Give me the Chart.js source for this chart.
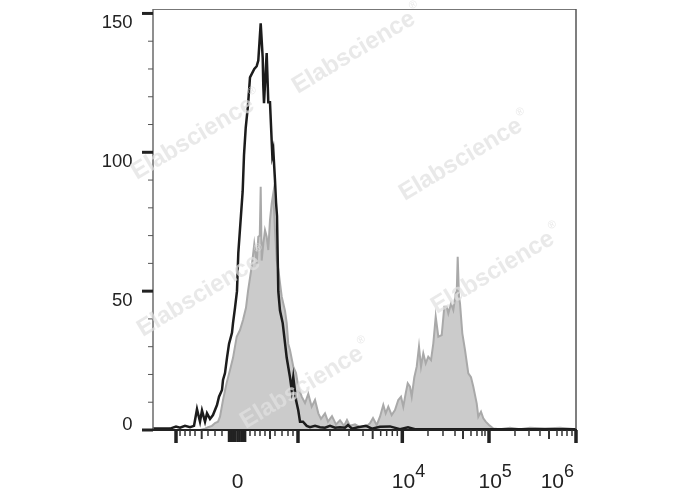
<!DOCTYPE html>
<html>
<head>
<meta charset="utf-8">
<script src="https://cdn.jsdelivr.net/npm/chart.js@4.4.1/dist/chart.umd.min.js"></script>
<style>
  body { margin: 0; background: #fff; }
</style>
</head>
<body>
<canvas id="myChart" width="688" height="490"></canvas>
<script>
// x values are display channels (0..1024) of a biexponential axis
var grayX = [0, 113.8, 125.9, 133.1, 142.8, 150.1, 157.4, 162.2, 169.5, 178.4,
  186.4, 193.7, 202.6, 210.6, 217.9, 225.1, 230.0, 238.9, 245.2, 251.0,
  254.9, 258.5, 260.7, 263.1, 267.0, 271.1, 275.2, 279.1, 283.2, 287.4,
  291.2, 295.3, 299.5, 303.3, 307.4, 311.6, 319.5, 323.7, 327.5, 331.6,
  339.6, 346.2, 351.7, 360.0, 368.0, 375.9, 384.2, 392.2, 400.2, 406.7,
  416.4, 423.6, 433.3, 443.0, 452.7, 462.4, 469.6, 476.9, 489.0, 501.1,
  513.2, 525.3, 532.6, 541.5, 549.5, 557.5, 563.3, 569.6, 577.8, 585.8,
  593.8, 600.4, 605.9, 611.7, 616.6, 622.1, 626.3, 632.6, 638.4, 643.9,
  648.8, 654.3, 660.2, 666.4, 673.0, 678.6, 684.4, 690.7, 698.9, 705.2,
  711.0, 714.9, 721.4, 727.0, 732.8, 735.4, 737.6, 740.8, 743.2, 748.8,
  755.3, 763.3, 769.8, 775.4, 783.6, 787.5, 794.0, 799.6, 805.4, 813.4,
  823.8, 840.0, 864.2, 888.4, 912.6, 949.0, 985.3, 1024]
var grayY = [0, 0, 0.5, 1, 1.5, 2.5, 3, 4.8, 10.8, 17,
  21.6, 26, 33.6, 36, 39.6, 44, 50, 58.8, 67, 60,
  69.6, 70, 87.6, 61, 67, 72, 69.6, 64.8, 75.6, 81.6,
  85.2, 72, 61, 58, 53, 48, 43, 38.5, 31, 28.8,
  22.8, 20.5, 15.6, 12, 9.7, 13, 8.4, 10.8, 6, 4,
  6, 3, 5, 2, 3.5, 1.5, 3.6, 1.5, 2, 1,
  1, 2.4, 4.3, 1.8, 4.8, 9, 6, 8.4, 5.4, 7.2,
  10.8, 12, 8.4, 13.2, 16.8, 15.6, 12, 19, 22.8, 30,
  22.8, 27.6, 24, 26.4, 25.2, 31.2, 40.8, 33.6, 34.2, 44.4,
  44.4, 42, 45.6, 43.2, 49.2, 50, 62.4, 48, 45.6, 34.8,
  28.8, 20.4, 19, 15.6, 9.6, 4.8, 6.6, 4.2, 3, 1.8,
  0.5, 0.3, 0.8, 0.3, 0.8, 0.5, 0.8, 0.3]

var ctrlX = [0, 41.2, 55.7, 65.4, 77.5, 89.6, 99.3, 106.5, 113.8, 118.6,
  125.9, 130.7, 138.0, 145.2, 154.9, 159.8, 167.0, 169.5, 174.3, 179.1,
  184.0, 191.2, 193.7, 198.5, 203.3, 206.5, 217.1, 220.3, 224.4, 230.0,
  234.8, 245.2, 251.0, 254.9, 260.7, 265.6, 267.0, 268.7, 275.2, 279.1,
  283.2, 288.8, 291.2, 295.3, 297.8, 300.2, 303.3, 307.4, 314.0, 323.7,
  331.6, 335.8, 339.6, 346.2, 351.7, 355.9, 363.1, 372.1, 380.1, 392.2,
  404.3, 416.4, 428.5, 440.6, 452.7, 464.8, 472.1, 481.7, 496.3, 515.6,
  530.2, 549.5, 573.7, 597.9, 617.3, 634.2, 1024]
var ctrlY = [0.5, 0.5, 1.2, 0.8, 1.5, 1, 1.5, 7.5, 3, 7,
  3, 6, 4, 5.4, 9, 12, 14.4, 18, 20.5, 26,
  31, 35, 38.5, 44, 50, 63.7, 86, 99, 108.7, 117,
  127, 130, 131, 133, 146.4, 134, 124, 117.7, 135.7, 118,
  118, 99, 100.8, 90, 82, 77, 50, 43, 38.5, 26,
  19, 14.4, 19, 10.8, 7, 3, 3, 1.5, 1, 1.5,
  1, 0.8, 1.5, 0.8, 1, 0.8, 1.8, 0.5, 1, 1.5,
  0.5, 1.2, 1.3, 0.3, 1, 0.3, 0.3]

var yMajor = [0, 50, 100, 150]
var yMinor = [10, 20, 30, 40, 60, 70, 80, 90, 110, 120, 130, 140]

var xMajor = [55.7, 351.0, 603.5, 813.4, 1024]
var xZeroTicks = [184, 189, 194, 199, 204.5, 209, 214, 218, 223]
var xMedium = [117.9, 283.2, 531.8, 750.4, 958.6]
var xMinor = [65.4, 77.5, 89.6, 101.7, 133.1, 150.1, 167.0,
  234.8, 246.9, 259.0, 271.1, 295.3, 312.3, 326.8, 338.9,
  428.5, 474.5, 508.4, 551.2, 565.7, 579.3, 591.4,
  665.7, 702.0, 731.1, 769.8, 784.3, 796.4, 803.7,
  876.3, 910.2, 936.8, 978.0, 990.1, 1002.2, 1014.3]

var xLabelPos = [204.5, 603.5, 813.4, 1024]
var xLabelBase = ['0', '10', '10', '10']
var xLabelExp = ['', '4', '5', '6']

var FONT = '"Liberation Sans", Arial, sans-serif'

function line(ctx, x1, y1, x2, y2, w, c) {
  ctx.strokeStyle = c
  ctx.lineWidth = w
  ctx.beginPath()
  ctx.moveTo(x1, y1)
  ctx.lineTo(x2, y2)
  ctx.stroke()
}

var axesPlugin = {
  id: 'flowAxes',
  afterDatasetsDraw: function(chart) {
    var ctx = chart.ctx, a = chart.chartArea
    var xs = chart.scales.x, ys = chart.scales.y
    ctx.save()
    // frame
    line(ctx, a.left, a.top + 0.5, a.right, a.top + 0.5, 1, '#777')
    line(ctx, a.right, a.top, a.right, a.bottom, 1.5, '#555')
    line(ctx, a.left, a.top, a.left, a.bottom, 1.5, '#6a6a6a')
    line(ctx, a.left - 11, a.bottom, a.right + 1, a.bottom, 2, '#222')

    // y ticks + labels
    ctx.font = '18.5px ' + FONT
    ctx.fillStyle = '#222'
    ctx.textAlign = 'right'
    ctx.textBaseline = 'alphabetic'
    yMinor.forEach(function(v) {
      var p = ys.getPixelForValue(v)
      line(ctx, a.left - 5, p, a.left, p, 1, '#555')
    })
    yMajor.forEach(function(v) {
      var p = ys.getPixelForValue(v)
      line(ctx, a.left - 11, p, a.left, p, 3, '#222')
      ctx.fillText(String(v), 132.5, v == 0 ? p : p + 15)
    })

    // x ticks
    var b = a.bottom
    xMinor.forEach(function(v) {
      var p = xs.getPixelForValue(v)
      line(ctx, p, b, p, b + 6, 1.5, '#333')
    })
    xMedium.forEach(function(v) {
      var p = xs.getPixelForValue(v)
      line(ctx, p, b, p, b + 9, 2, '#333')
    })
    xZeroTicks.forEach(function(v) {
      var p = xs.getPixelForValue(v)
      line(ctx, p, b, p, b + 12, 2.5, '#222')
    })
    xMajor.forEach(function(v) {
      var p = xs.getPixelForValue(v)
      line(ctx, p, b, p, b + 13, 3.5, '#222')
    })

    // x labels with exponents
    ctx.textAlign = 'left'
    for (var i = 0; i < xLabelPos.length; i++) {
      var p = xs.getPixelForValue(xLabelPos[i])
      ctx.font = '21px ' + FONT
      var wb = ctx.measureText(xLabelBase[i]).width
      if (!xLabelExp[i]) {
        ctx.fillText(xLabelBase[i], p - wb / 2, 488)
        continue
      }
      ctx.font = '18px ' + FONT
      var we = ctx.measureText(xLabelExp[i]).width
      var left = Math.min(p - 10.5, a.right - wb - we - 2)
      ctx.font = '21px ' + FONT
      ctx.fillText(xLabelBase[i], left, 487.5)
      ctx.font = '18px ' + FONT
      ctx.fillText(xLabelExp[i], left + wb, 477)
    }
    ctx.restore()
  }
}

var watermarkPlugin = {
  id: 'watermark',
  afterDraw: function(chart) {
    var ctx = chart.ctx
    var spots = [[358, 50], [465, 157], [497, 270], [197, 136], [203, 293], [306, 385]]
    ctx.save()
    ctx.fillStyle = 'rgba(225,225,225,0.72)'
    spots.forEach(function(s) {
      ctx.save()
      ctx.translate(s[0], s[1])
      ctx.rotate(-31 * Math.PI / 180)
      ctx.font = 'bold 24px ' + FONT
      var w = ctx.measureText('Elabscience').width
      ctx.textAlign = 'left'
      ctx.textBaseline = 'middle'
      ctx.fillText('Elabscience', -w / 2 - 5, 0)
      ctx.font = '11px ' + FONT
      ctx.fillText('®', w / 2 - 3, -10)
      ctx.restore()
    })
    ctx.restore()
  }
}

var ctx = document.getElementById('myChart')
var chart = new Chart(ctx, {
  type: 'line',
  data: {
    datasets: [{
      label: 'Control',
      data: ctrlX.map(function(x, i) { return { x: x, y: ctrlY[i] } }),
      borderColor: '#1c1c1c',
      borderWidth: 2.5,
      pointRadius: 0,
      fill: false,
      tension: 0,
      order: 0
    }, {
      label: 'Sample',
      data: grayX.map(function(x, i) { return { x: x, y: grayY[i] } }),
      borderColor: '#a9a9a9',
      backgroundColor: '#cbcbcb',
      borderWidth: 2,
      pointRadius: 0,
      fill: 'origin',
      tension: 0,
      order: 1
    }]
  },
  options: {
    responsive: false,
    animation: false,
    devicePixelRatio: 1,
    layout: { padding: { left: 153, right: 112, top: 9, bottom: 60 } },
    plugins: { legend: { display: false }, tooltip: { enabled: false } },
    scales: {
      x: { type: 'linear', min: 0, max: 1024, display: false },
      y: { type: 'linear', min: 0, max: 151.6, display: false }
    }
  },
  plugins: [axesPlugin, watermarkPlugin]
})
</script>
</body>
</html>
